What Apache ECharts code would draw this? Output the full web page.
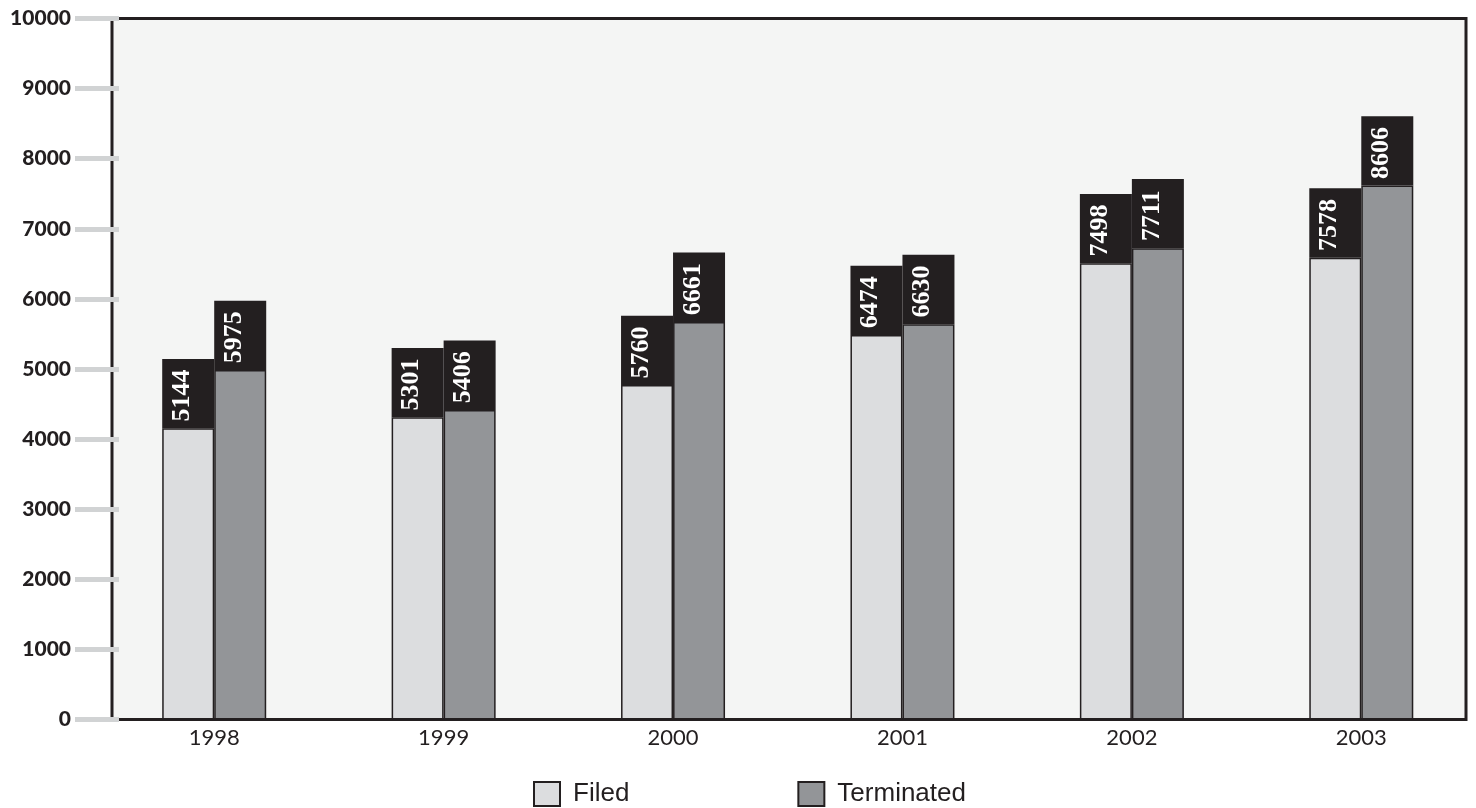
<!DOCTYPE html>
<html>
<head>
<meta charset="utf-8">
<script src="https://cdn.jsdelivr.net/npm/echarts@6/dist/echarts.min.js"></script>
<style>
html,body{margin:0;padding:0;background:#ffffff;}
#chart{width:1476px;height:808px;}
</style>
</head>
<body>
<div id="chart"></div>
<script>
const years = ['1998', '1999', '2000', '2001', '2002', '2003'];
const filed = [5144, 5301, 5760, 6474, 7498, 7578];
const terminated = [5975, 5406, 6661, 6630, 7711, 8606];
const yMin = 0, yMax = 10000, yStep = 1000;
const CAP = 990; // height of the black value box, in axis units

const DARK = '#231f20';
const chart = echarts.init(document.getElementById('chart'));

function capLabel(values) {
  return {
    show: true,
    position: 'inside',
    rotate: 90,
    offset: [-2, -6],
    color: '#ffffff',
    fontFamily: 'Liberation Serif',
    fontWeight: 'bold',
    fontSize: 26,
    formatter: p => String(values[p.dataIndex])
  };
}

const option = {
  animation: false,
  backgroundColor: '#ffffff',
  grid: [
    { left: 112, top: 18.5, right: 10, bottom: 88.5, show: true,
      backgroundColor: '#f4f5f4', borderColor: DARK, borderWidth: 3 },
    { left: 99.5, top: 18.5, width: 1380, bottom: 88.5 }
  ],
  xAxis: [
    { gridIndex: 0, type: 'category', data: years, show: false },
    { gridIndex: 1, type: 'category', data: years,
      axisLine: { show: false }, axisTick: { show: false },
      axisLabel: { margin: 7, fontFamily: 'Lato', fontSize: 22, color: DARK } }
  ],
  yAxis: [
    { gridIndex: 0, type: 'value', min: yMin, max: yMax, interval: yStep,
      offset: -7,
      axisLine: { show: false },
      axisTick: { show: true, length: 44, lineStyle: { color: '#d1d3d4', width: 5 } },
      splitLine: { show: false },
      axisLabel: { margin: 48, fontFamily: 'Lato', fontWeight: 900, fontSize: 21, color: DARK,
        formatter: v => String(v) } },
    { gridIndex: 1, type: 'value', min: yMin, max: yMax, interval: yStep, show: false,
      splitLine: { show: false } }
  ],
  legend: {
    data: ['Filed', 'Terminated'],
    icon: 'rect',
    left: 528, top: 776,
    itemWidth: 26, itemHeight: 24, itemGap: 168,
    textStyle: { fontFamily: 'Liberation Sans', fontSize: 26, color: DARK, padding: [0, 0, 0, 8] }
  },
  series: [
    { name: 'Filed', type: 'bar', xAxisIndex: 1, yAxisIndex: 1, stack: 'f',
      barWidth: 52, barGap: '0%',
      itemStyle: { color: '#dcdddf', borderColor: DARK, borderWidth: 1.5 },
      data: filed.map(v => v - CAP) },
    { name: 'FiledCap', type: 'bar', xAxisIndex: 1, yAxisIndex: 1, stack: 'f',
      barWidth: 52, barGap: '0%',
      itemStyle: { color: DARK },
      label: capLabel(filed),
      data: filed.map(() => CAP) },
    { name: 'Terminated', type: 'bar', xAxisIndex: 1, yAxisIndex: 1, stack: 't',
      barWidth: 52, barGap: '0%',
      itemStyle: { color: '#939598', borderColor: DARK, borderWidth: 1.5 },
      data: terminated.map(v => v - CAP) },
    { name: 'TerminatedCap', type: 'bar', xAxisIndex: 1, yAxisIndex: 1, stack: 't',
      barWidth: 52, barGap: '0%',
      itemStyle: { color: DARK },
      label: capLabel(terminated),
      data: terminated.map(() => CAP) }
  ]
};
chart.setOption(option);
</script>
</body>
</html>
